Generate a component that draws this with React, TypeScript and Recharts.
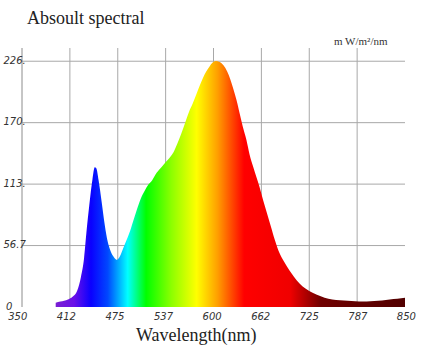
import React from "react";
import { AreaChart, Area, XAxis, YAxis, CartesianGrid } from "recharts";

// spectrum (nm -> mW/m²/nm)
const wavelengths = [
  394, 400, 410, 416, 422, 427, 431, 434, 438, 442, 445, 447, 450, 454, 458, 462,
  466, 470, 474, 478, 482, 486, 490, 495, 500, 505, 510, 515, 520, 526, 532, 538,
  543, 548, 553, 558, 563, 568, 573, 578, 583, 588, 593, 598, 603, 608, 613, 618,
  622, 626, 630, 634, 638, 643, 647, 652, 656, 660, 665, 670, 675, 680, 686, 692,
  699, 705, 712, 720, 730, 740, 750, 760, 770, 780, 790, 800, 810, 820, 830, 840,
  850,
];
const intensity = [
  4, 5, 7, 9.5, 15, 28, 45, 68, 95, 118, 129, 128, 117, 97, 76, 60,
  51, 46, 43.5, 47, 54, 61, 68, 79, 90, 100, 107, 113, 117, 124, 129, 134,
  138, 143, 151, 160, 170, 180, 188, 197, 206, 214, 220, 225, 227, 226, 223, 217,
  210, 201, 191, 179, 167, 154, 141, 129, 120, 111, 98, 86, 74, 62, 50, 42,
  34, 28, 22, 17, 13, 10, 7.5, 6.5, 6, 5.5, 5, 5, 5.5, 6, 7, 7.5,
  8.5,
];

const xTicks = [350, 412.5, 475, 537.5, 600, 662.5, 725, 787.5, 850];
const xLabels = ["350", "412", "475", "537", "600", "662", "725", "787", "850"];
const yTicks = [0, 56.7, 113.4, 170.1, 226.8];
const yLabels = ["0", "56.7", "113.", "170.", "226."];
const gridX = [412.5, 475, 537.5, 600, 662.5, 725, 787.5];
const gridY = [56.7, 113.4, 170.1, 226.8];

// colour of the light at each wavelength
const stopWl = [394, 418, 440, 462, 488, 512, 545, 578, 605, 640, 700, 740, 850];
const stopColor = [
  "#7a1ed2", "#6a10e8", "#0a00ff", "#0048ff", "#00ffff", "#00ff00", "#8cff00",
  "#ffff00", "#ffa000", "#ff0000", "#f00000", "#700000", "#520000",
];

const data = wavelengths.map((w, i) => ({ w, v: intensity[i] }));
const wMin = wavelengths[0];
const wMax = wavelengths[wavelengths.length - 1];

const tickFont = { fontFamily: "DejaVu Sans", fontStyle: "italic", fontSize: 10, fill: "#333" };
const serif = "'Liberation Serif', 'Times New Roman', serif";

function XTick(props: any) {
  const { x, y, payload, index } = props;
  const i = xTicks.indexOf(payload.value);
  return (
    <text x={x + (index - 6) * 0.7} y={y + 13} textAnchor="middle" {...tickFont}>
      {xLabels[i]}
    </text>
  );
}

function YTick(props: any) {
  const { y, payload } = props;
  const i = yTicks.indexOf(payload.value);
  return (
    <text x={i === 0 ? 6 : 3.5} y={y + 2.5} textAnchor="start" {...tickFont}>
      {yLabels[i]}
    </text>
  );
}

export default function App() {
  return (
    <div style={{ position: "fixed", left: 0, top: 0, width: 422, height: 351, background: "#fff" }}>
      <AreaChart width={422} height={351} data={data} margin={{ top: 48, right: 17, left: 0, bottom: 14 }}>
        <defs>
          <linearGradient id="spectrum" x1="0" y1="0" x2="1" y2="0">
            {stopWl.map((w, i) => (
              <stop key={w} offset={(w - wMin) / (wMax - wMin)} stopColor={stopColor[i]} />
            ))}
          </linearGradient>
        </defs>
        <CartesianGrid stroke="#a8a8a8" verticalValues={gridX} horizontalValues={gridY} />
        <XAxis
          dataKey="w"
          type="number"
          domain={[350, 850]}
          ticks={xTicks}
          interval={0}
          tick={<XTick />}
          axisLine={false}
          tickLine={false}
          tickSize={0}
          tickMargin={0}
          height={30}
        />
        <YAxis
          type="number"
          domain={[0, 239]}
          ticks={yTicks}
          interval={0}
          tick={<YTick />}
          axisLine={{ stroke: "#8c8c8c" }}
          tickLine={false}
          tickSize={0}
          tickMargin={0}
          width={22}
        />
        <Area
          type="monotone"
          dataKey="v"
          stroke="none"
          fill="url(#spectrum)"
          fillOpacity={1}
          isAnimationActive={false}
        />
        <text x={27} y={24} fontFamily={serif} fontSize={18} fill="#222">
          Absoult spectral
        </text>
        <text x={334} y={45} fontFamily={serif} fontSize={11} fill="#333">
          m W/m²/nm
        </text>
        <text x={136} y={341} fontFamily={serif} fontSize={18} fill="#222">
          Wavelength(nm)
        </text>
      </AreaChart>
    </div>
  );
}
